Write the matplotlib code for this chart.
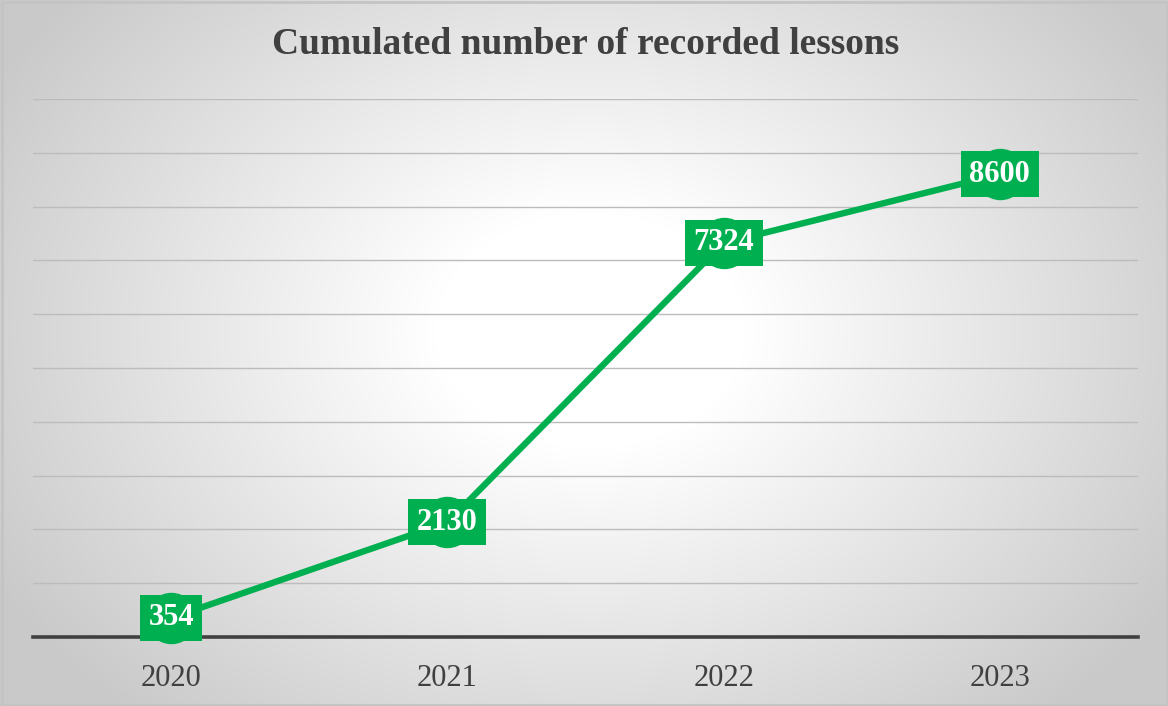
import numpy as np
import matplotlib
matplotlib.use("Agg")
import matplotlib.pyplot as plt
from matplotlib.patches import Rectangle

years = ["2020", "2021", "2022", "2023"]
lessons = [354, 2130, 7324, 8600]
title = "Cumulated number of recorded lessons"

GREEN = "#00B050"
W, H = 1168, 706
fig = plt.figure(figsize=(W / 100, H / 100), dpi=100)

# radial gradient background
bg = fig.add_axes([0, 0, 1, 1], zorder=-10)
yy, xx = np.mgrid[0:H, 0:W]
cx, cy = 590, 330
r = np.sqrt(((xx - cx) / 620.0) ** 2 + ((yy - cy) / 470.0) ** 2)
v = 1.0 - 0.21 * np.clip((r - 0.25) / 0.85, 0, 1) ** 1.0
v = np.clip(v, 0.78, 1.0)
img = np.dstack([v, v, v])
bg.imshow(img, extent=[0, W, H, 0], aspect="auto", interpolation="bilinear")
bg.set_xlim(0, W)
bg.set_ylim(H, 0)
bg.axis("off")
bg.add_patch(Rectangle((1.5, 1.5), W - 3, H - 3, fill=False, edgecolor="#c4c4c4", lw=2))

ax = fig.add_axes([33 / W, 1 - 637 / H, (1138 - 33) / W, (637 - 99) / H])
ax.patch.set_alpha(0)
x = np.arange(len(years))
ax.set_xlim(-0.5, len(years) - 0.5)
ax.set_ylim(0, 10000)
ax.set_yticks(np.arange(0, 10001, 1000))
ax.yaxis.grid(True, color="#bcbcbc", lw=1.0)
ax.set_axisbelow(True)
for s in ["top", "right", "left"]:
    ax.spines[s].set_visible(False)
ax.spines["bottom"].set_color("#404040")
ax.spines["bottom"].set_linewidth(2.6)
ax.spines["bottom"].set_zorder(1)
ax.tick_params(axis="y", left=False, labelleft=False)
ax.tick_params(axis="x", bottom=False, pad=16)
ax.set_xticks(x)
ax.set_xticklabels(years, fontsize=22, family="Liberation Serif", color="#404040")

ax.plot(x, lessons, color=GREEN, lw=4.6, marker="o", markersize=36,
        markerfacecolor=GREEN, markeredgecolor=GREEN, zorder=3, clip_on=False)
for xi, yi in zip(x, lessons):
    ax.text(xi, yi, str(yi), ha="center", va="center", fontsize=22,
            family="Liberation Serif", weight="bold", color="white", zorder=5,
            bbox=dict(boxstyle="square,pad=0.28", fc=GREEN, ec="none"))

fig.text(586 / W, 1 - 45 / H, title, ha="center", va="center", fontsize=27,
         family="Liberation Serif", weight="bold", color="#404040")

fig.savefig("out.png", dpi=100)
